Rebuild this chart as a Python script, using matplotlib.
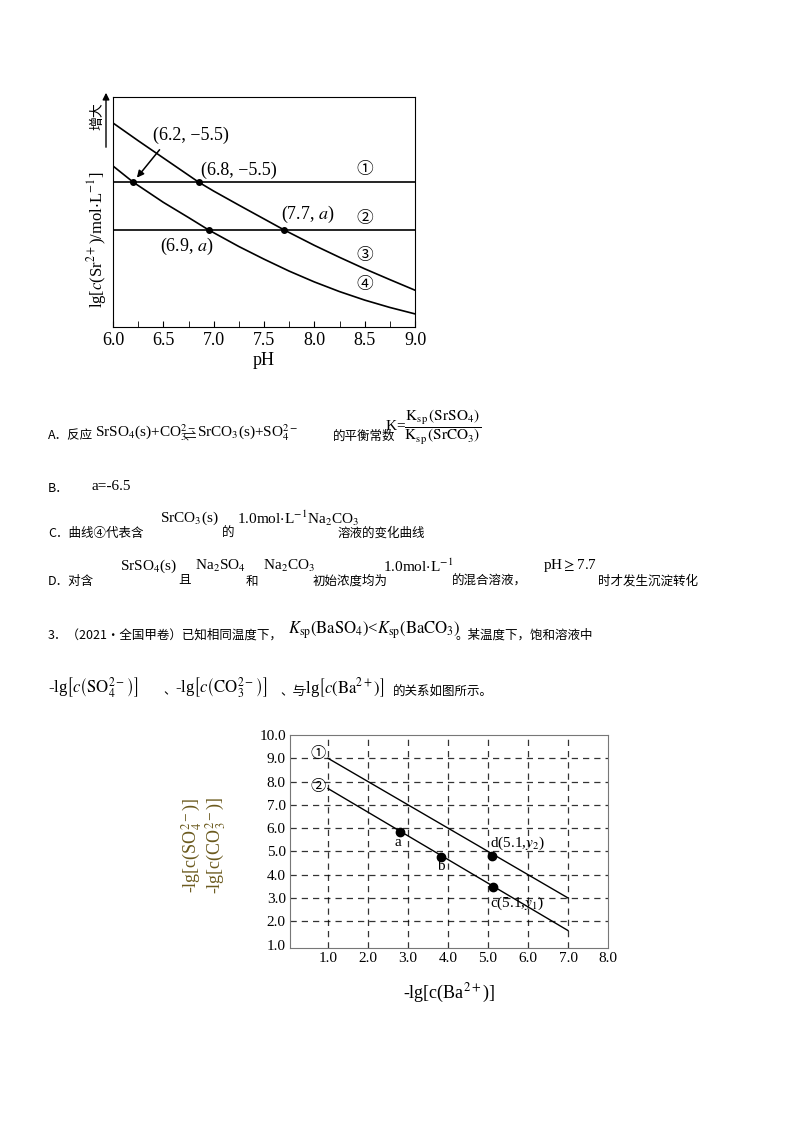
import matplotlib.pyplot as plt
from matplotlib.patches import FancyArrowPatch
import numpy as np

plt.rcParams.update({
    "font.family": ["Liberation Serif", "Noto Sans CJK SC"],
    "mathtext.fontset": "stix",
})
CJK = ["Noto Sans CJK SC", "DejaVu Sans"]

# --- top chart: lg c(Sr2+) vs pH (y in arbitrary units, no ticks)
ph_upper = [6.0, 6.25, 6.5, 6.85, 7.0, 7.25, 7.5, 7.7, 8.0, 8.25, 8.5, 8.75, 9.0]
sr_upper = [8.87, 8.1, 7.35, 6.3, 5.91, 5.3, 4.7, 4.22, 3.55, 3.03, 2.53, 2.06, 1.6]
ph_lower = [6.0, 6.2, 6.5, 6.75, 6.95, 7.25, 7.5, 7.75, 8.0, 8.25, 8.5, 8.75, 9.0]
sr_lower = [7.0, 6.3, 5.42, 4.76, 4.22, 3.5, 2.95, 2.43, 1.96, 1.54, 1.17, 0.85, 0.57]
level_1 = 6.3    # lg c = -5.5
level_2 = 4.22   # lg c = a
marked_x = [6.2, 6.85, 6.95, 7.7]
marked_y = [level_1, level_1, level_2, level_2]
ph_ticks = [6.0, 6.5, 7.0, 7.5, 8.0, 8.5, 9.0]

# --- bottom chart: -lg c(anion) vs -lg c(Ba2+)
line1_x = [1.0, 7.0]
line1_y = [9.0, 3.0]
line2_x = [1.0, 7.0]
line2_y = [7.7, 1.6]
pt_x = [2.8, 3.82, 5.1, 5.12]
pt_y = [5.82, 4.75, 4.82, 3.45]
pt_lab = ["a", "b", r"d(5.1,$y_2$)", r"c(5.1,$y_1$)"]

fig = plt.figure(figsize=(8, 11.32), dpi=100)
W, H = 800, 1132


def px(x, y):
    return x / W, 1 - y / H


ax = fig.add_axes([113 / W, 1 - 327 / H, 302 / W, 230 / H])
ax.plot(ph_upper, sr_upper, color="black", lw=1.2)
ax.plot(ph_lower, sr_lower, color="black", lw=1.2)
ax.axhline(level_1, color="black", lw=1.2)
ax.axhline(level_2, color="black", lw=1.2)
ax.plot(marked_x, marked_y, "o", color="black", ms=4)
ax.set_xlim(6.0, 9.0)
ax.set_ylim(0, 10)
ax.set_xticks(ph_ticks)
ax.set_xticklabels([f"{t:.1f}" for t in ph_ticks], fontsize=13)
ax.set_xticks(np.arange(6.25, 9.0, 0.5), minor=True)
ax.tick_params(axis="x", direction="in", which="both", length=4)
ax.set_yticks([])
ax.set_xlabel("pH", fontsize=13, labelpad=2)
ax.text(6.4, 8.35, "(6.2, −5.5)", fontsize=13, va="center")
ax.annotate("", xy=(6.22, level_1 + 0.1), xytext=(6.48, 7.8),
            arrowprops=dict(arrowstyle="-|>", color="black", lw=1.1))
ax.text(6.87, 6.8, "(6.8, −5.5)", fontsize=13, va="center")
ax.text(7.67, 4.9, r"(7.7, $a$)", fontsize=13, va="center")
ax.text(6.47, 3.5, r"(6.9, $a$)", fontsize=13, va="center")
for lab, yy in zip(["①", "②", "③", "④"], [6.85, 4.7, 3.1, 1.85]):
    ax.text(8.5, yy, lab, fontsize=12, ha="center", va="center", family=CJK)
fig.text(*px(97, 240), r"lg[$c$(Sr$^{2+}$)/mol$\cdot$L$^{-1}$]", rotation=90,
         fontsize=12, ha="center", va="center")
fig.text(*px(97, 116), "增大", rotation=90, fontsize=10, ha="center",
         va="center", family=CJK)
fig.patches.append(FancyArrowPatch(
    px(106, 150), px(106, 90), transform=fig.transFigure,
    arrowstyle="-|>", mutation_scale=10, color="black", lw=1))

# --- question text
fs = 9
ms = 11
fig.text(*px(48, 436), "A．反应", fontsize=fs, family=CJK, va="center")
fig.text(*px(95, 433), r"SrSO$_4$(s)+CO$_3^{2-}$", fontsize=ms, va="center")
fig.text(*px(184, 436), "⇌", fontsize=fs, family=CJK, va="center")
fig.text(*px(197, 433), r"SrCO$_3$(s)+SO$_4^{2-}$", fontsize=ms, va="center")
fig.text(*px(333, 436), "的平衡常数", fontsize=fs, family=CJK, va="center")
fig.text(*px(385, 427),
         r"K=$\dfrac{\mathrm{K_{sp}\,(SrSO_4)}}{\mathrm{K_{sp}\,(SrCO_3)}}$",
         fontsize=ms, va="center")
fig.text(*px(48, 489), "B．", fontsize=fs, family=CJK, va="center")
fig.text(*px(92, 487), "a=-6.5", fontsize=ms, va="center")
fig.text(*px(48, 533), "C．曲线④代表含", fontsize=fs, family=CJK, va="center")
fig.text(*px(160, 518), r"SrCO$_3$(s)", fontsize=ms, va="center")
fig.text(*px(222, 533), "的", fontsize=fs, family=CJK, va="center")
fig.text(*px(237, 518), r"1.0mol$\cdot$L$^{-1}$Na$_2$CO$_3$", fontsize=ms,
         va="center")
fig.text(*px(338, 533), "溶液的变化曲线", fontsize=fs, family=CJK, va="center")
fig.text(*px(48, 581), "D．对含", fontsize=fs, family=CJK, va="center")
fig.text(*px(120, 566), r"SrSO$_4$(s)", fontsize=ms, va="center")
fig.text(*px(178, 581), "且", fontsize=fs, family=CJK, va="center")
fig.text(*px(195, 566), r"Na$_2$SO$_4$", fontsize=ms, va="center")
fig.text(*px(246, 581), "和", fontsize=fs, family=CJK, va="center")
fig.text(*px(263, 566), r"Na$_2$CO$_3$", fontsize=ms, va="center")
fig.text(*px(313, 581), "初始浓度均为", fontsize=fs, family=CJK, va="center")
fig.text(*px(383, 566), r"1.0mol$\cdot$L$^{-1}$", fontsize=ms, va="center")
fig.text(*px(452, 581), "的混合溶液，", fontsize=fs, family=CJK, va="center")
fig.text(*px(543, 566), r"pH$\geq$7.7", fontsize=ms, va="center")
fig.text(*px(598, 581), "时才发生沉淀转化", fontsize=fs, family=CJK, va="center")

fig.text(*px(48, 635), "3．（2021·全国甲卷）已知相同温度下，", fontsize=fs,
         family=CJK, va="center")
fig.text(*px(288, 630),
         r"$K_{\mathrm{sp}}\left(\mathrm{BaSO_4}\right)$<$K_{\mathrm{sp}}\left(\mathrm{BaCO_3}\right)$",
         fontsize=12, va="center")
fig.text(*px(456, 635), "。某温度下，饱和溶液中", fontsize=fs, family=CJK,
         va="center")
fig.text(*px(48, 688), r"-lg$\left[c\left(\mathrm{SO_4^{2-}}\right)\right]$",
         fontsize=12, va="center")
fig.text(*px(163, 691), "、", fontsize=fs, family=CJK, va="center")
fig.text(*px(175, 688), r"-lg$\left[c\left(\mathrm{CO_3^{2-}}\right)\right]$",
         fontsize=12, va="center")
fig.text(*px(280, 691), "、与", fontsize=fs, family=CJK, va="center")
fig.text(*px(300, 688), r"-lg$\left[c\left(\mathrm{Ba^{2+}}\right)\right]$",
         fontsize=12, va="center")
fig.text(*px(393, 691), "的关系如图所示。", fontsize=fs, family=CJK,
         va="center")

# --- bottom chart
bx = fig.add_axes([290 / W, 1 - 948 / H, 318 / W, 213 / H])
bx.set_xlim(0.05, 8.0)
bx.set_ylim(0.85, 10.0)
for v in range(1, 8):
    bx.axvline(v, color="black", ls=(0, (5, 4)), lw=0.9, alpha=0.8)
for v in range(2, 10):
    bx.axhline(v, color="black", ls=(0, (5, 4)), lw=0.9, alpha=0.8)
bx.plot(line1_x, line1_y, color="black", lw=1)
bx.plot(line2_x, line2_y, color="black", lw=1)
bx.plot(pt_x, pt_y, "o", color="black", ms=6)
lab_pos = [(2.67, 5.4), (3.72, 4.33), (5.05, 5.36), (5.05, 2.78)]
for lab, (lx, ly) in zip(pt_lab, lab_pos):
    bx.text(lx, ly, lab, fontsize=11, va="center", ha="left")
bx.text(0.75, 9.2, "①", fontsize=11, ha="center", va="center", family=CJK)
bx.text(0.75, 7.8, "②", fontsize=11, ha="center", va="center", family=CJK)
bx.set_xticks(range(1, 9))
bx.set_xticklabels([f"{v:.1f}" for v in range(1, 9)], fontsize=11)
bx.set_yticks(range(1, 11))
bx.set_yticklabels([f"{v:.1f}" for v in range(1, 11)], fontsize=11)
bx.tick_params(length=0, pad=3)
for s in bx.spines.values():
    s.set_color("#777777")
bx.set_xlabel(r"-lg[c(Ba$^{2+}$)]", fontsize=13, labelpad=12)
olive = "#6b5a1e"
fig.text(*px(192, 845), r"-lg[c(SO$_4^{2-}$)]", rotation=90, fontsize=13,
         ha="center", va="center", color=olive)
fig.text(*px(216, 845), r"-lg[c(CO$_3^{2-}$)]", rotation=90, fontsize=13,
         ha="center", va="center", color=olive)

fig.savefig("out.png", dpi=100)
